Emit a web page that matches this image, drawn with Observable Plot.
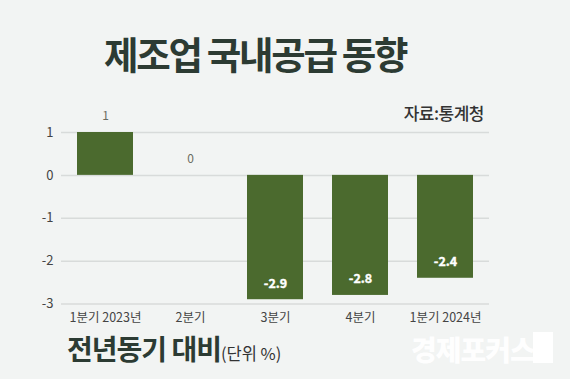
<!DOCTYPE html>
<html>
<head>
<meta charset="utf-8">
<script src="https://cdn.jsdelivr.net/npm/d3@7"></script>
<script src="https://cdn.jsdelivr.net/npm/@observablehq/plot@0.6"></script>
<style>
  html, body { margin: 0; padding: 0; background: #f2f4f3; }
  #wrap { position: relative; width: 570px; height: 379px; background: #f2f4f3; overflow: hidden;
          font-family: "Noto Sans CJK KR", "Noto Sans", sans-serif; }
  #chart { position: absolute; left: 0; top: 0; }
  .abs { position: absolute; white-space: nowrap; line-height: 1; }
  #title { left: 104px; top: 34px; font-size: 37.5px; font-weight: 700;
           letter-spacing: -2.3px; color: #2c3b33; }
  #source { right: 86px; top: 104px; font-size: 17px; font-weight: 500; color: #333; letter-spacing: -0.5px; }
  #caption { left: 67px; top: 334px; font-size: 28px; font-weight: 700; color: #2c3b33; letter-spacing: -1px; }
  #caption span { font-size: 16.5px; font-weight: 400; letter-spacing: 0; color: #333; }
  #mark { left: 411px; top: 335px; font-size: 28px; font-weight: 900; color: #ffffff; letter-spacing: -1px; opacity: 0.95; }
  #box { left: 533px; top: 332px; width: 20px; height: 31px; background: #ffffff; opacity: 0.95; }
</style>
</head>
<body>
<div id="wrap">
  <div id="chart"></div>
  <div class="abs" id="title">제조업 국내공급 동향</div>
  <div class="abs" id="source">자료:통계청</div>
  <div class="abs" id="caption">전년동기 대비<span>(단위 %)</span></div>
  <div class="abs" id="mark">경제포커스</div>
  <div class="abs" id="box"></div>
</div>
<script>
const categories = ["1분기 2023년", "2분기", "3분기", "4분기", "1분기 2024년"];
const values = [1, 0, -2.9, -2.8, -2.4];
const yTicks = [1, 0, -1, -2, -3];

const data = categories.map((c, i) => ({category: c, value: values[i]}));
const barColor = "#4b6a2e";

const chart = Plot.plot({
  width: 570,
  height: 379,
  marginTop: 132,
  marginBottom: 75.5,
  marginLeft: 61,
  marginRight: 81,
  style: {background: "transparent", fontFamily: "'Noto Sans CJK KR', 'Noto Sans', sans-serif", color: "#444"},
  x: {domain: categories, paddingInner: 0.34, paddingOuter: 0.17, label: null, axis: null},
  y: {domain: [-3, 1], label: null, axis: null},
  marks: [
    Plot.ruleY(yTicks, {stroke: "#d8dbda", strokeWidth: 1.5}),
    Plot.barY(data, {x: "category", y: "value", fill: barColor}),
    Plot.axisY(yTicks, {tickSize: 0, tickPadding: 8, fontSize: 13, tickFormat: d => String(d), label: null}),
    Plot.axisX(categories, {tickSize: 0, tickPadding: 9, fontSize: 12.5, label: null}),
    Plot.text(data.filter(d => d.value >= 0), {x: "category", y: "value", text: d => String(d.value), dy: -16, fill: "#6a6c60", fontSize: 12}),
    Plot.text(data.filter(d => d.value < 0), {x: "category", y: "value", text: d => String(d.value), dy: -16, fill: "#ffffff", stroke: "#ffffff", strokeWidth: 0.4, fontSize: 12.5, fontWeight: 600, letterSpacing: "-0.5px"})
  ]
});
document.getElementById("chart").appendChild(chart);
</script>
</body>
</html>
